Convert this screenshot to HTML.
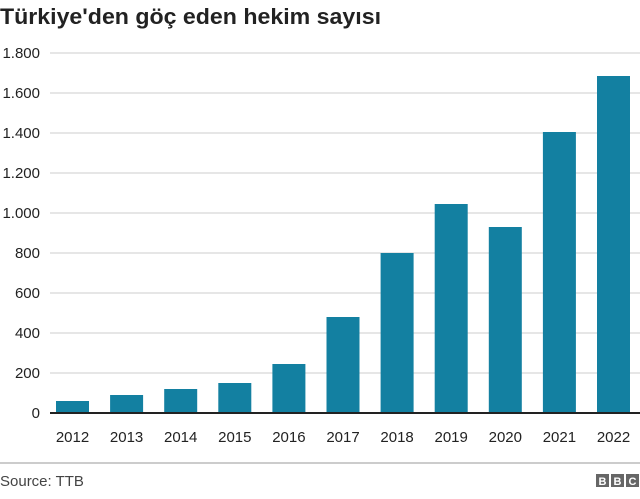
<!DOCTYPE html>
<html><head><meta charset="utf-8"><style>
body{margin:0;width:640px;height:494px;background:#fff;font-family:"Liberation Sans",sans-serif;overflow:hidden}
</style></head><body>
<svg width="640" height="494">
<text x="0" y="24" font-size="22" font-weight="bold" fill="#222" textLength="381" lengthAdjust="spacingAndGlyphs">Türkiye'den göç eden hekim sayısı</text>
<g id="grid"></g>
<g id="bars"></g>
<g id="xlab"></g>
<line x1="50" x2="640" y1="413" y2="413" stroke="#222" stroke-width="2"/>
<line x1="0" x2="640" y1="463" y2="463" stroke="#999" stroke-width="1"/>
<text x="0" y="486" font-size="15" fill="#444">Source: TTB</text>
<g>
<rect x="596" y="474" width="13" height="13" fill="#666"/><rect x="611" y="474" width="13" height="13" fill="#666"/><rect x="626" y="474" width="13" height="13" fill="#666"/>
<text x="602.5" y="485" font-size="11" font-weight="bold" fill="#fff" text-anchor="middle">B</text>
<text x="617.5" y="485" font-size="11" font-weight="bold" fill="#fff" text-anchor="middle">B</text>
<text x="632.5" y="485" font-size="11" font-weight="bold" fill="#fff" text-anchor="middle">C</text>
</g>
</svg>
<script>
const years=["2012","2013","2014","2015","2016","2017","2018","2019","2020","2021","2022"];
const values=[60,90,120,150,245,480,800,1045,930,1405,1685];
const ticks=[0,200,400,600,800,1000,1200,1400,1600,1800];
const tickLabels=["0","200","400","600","800","1.000","1.200","1.400","1.600","1.800"];
const NS="http://www.w3.org/2000/svg";
const y=v=>413-v*(360/1800);
const x=i=>56+i*54.1;
const bw=33;
const grid=document.getElementById('grid');
ticks.forEach((t,i)=>{
 if(t>0){const l=document.createElementNS(NS,'line');
 l.setAttribute('x1',50);l.setAttribute('x2',640);l.setAttribute('y1',y(t));l.setAttribute('y2',y(t));
 l.setAttribute('stroke','#ccc');
 
 
 grid.appendChild(l);}
 const tx=document.createElementNS(NS,'text');
 tx.setAttribute('x',40);tx.setAttribute('y',y(t)+5);tx.setAttribute('text-anchor','end');
 tx.setAttribute('font-size','15');tx.setAttribute('fill','#222');tx.textContent=tickLabels[i];
 
 
 grid.appendChild(tx);
});
const bars=document.getElementById('bars'),xl=document.getElementById('xlab');
years.forEach((yr,i)=>{
 const r=document.createElementNS(NS,'rect');
 r.setAttribute('x',x(i));r.setAttribute('width',bw);r.setAttribute('y',y(values[i]));
 r.setAttribute('height',413-y(values[i]));r.setAttribute('fill','#1380a1');
 
 
 bars.appendChild(r);
 const t=document.createElementNS(NS,'text');
 t.setAttribute('x',x(i)+bw/2);t.setAttribute('y',442);t.setAttribute('text-anchor','middle');
 t.setAttribute('font-size','15');t.setAttribute('fill','#222');t.textContent=yr;
 
 
 xl.appendChild(t);
});
</script>
</body></html>
